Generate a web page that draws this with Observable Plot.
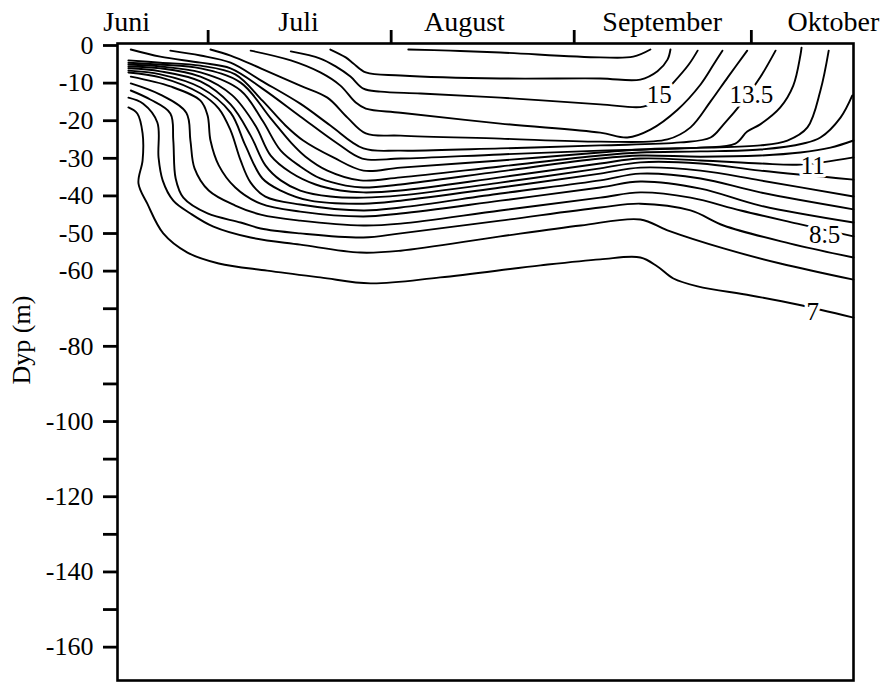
<!DOCTYPE html>
<html>
<head>
<meta charset="utf-8">
<script src="https://cdn.jsdelivr.net/npm/d3@7"></script>
<script src="https://cdn.jsdelivr.net/npm/@observablehq/plot@0.6"></script>
<style>
  html, body { margin: 0; padding: 0; background: #fff; }
  #chart svg { display: block; }
  #chart svg text { font-family: 'Liberation Serif', 'Times New Roman', serif !important; }
</style>
</head>
<body>
<div id="chart"></div>
<script>
// x = days since 1 June, y = depth (m, negative downward)
const monthNames = ["Juni", "Juli", "August", "September", "Oktober"];
const monthLabelDays = [16.2, 45.3, 73.4, 106.9, 135.9];
const monthStartDays = [30, 61, 92, 122];

const yTicks = [0, -10, -20, -30, -40, -50, -60, -70, -80, -90, -100, -110, -120, -130, -140, -150, -160];
const yLabeled = [0, -10, -20, -30, -40, -50, -60, -80, -100, -120, -140, -160];

const levels = [7, 7.5, 8, 8.5, 9, 9.5, 10, 10.5, 11, 11.5, 12, 12.5, 13, 13.5, 14, 14.5, 15, 15.5, 16];

const t7 = [[16.5,-17.0],[18.0,-18.6],[18.9,-23.9],[18.9,-31.1],[18.2,-37.2],[19.7,-42.6],[22.4,-50.5],[26.5,-55.6],[31.8,-58.5],[40.0,-60.4],[49.0,-62.2],[57.5,-63.8],[69.3,-62.2],[86.3,-59.0],[96.4,-57.4],[103.2,-56.9],[106.1,-59.3],[108.8,-62.5],[112.9,-64.6],[121.9,-67.0],[129.8,-69.4],[139.3,-72.9]];
const t7_5 = [[16.5,-14.4],[19.0,-16.0],[21.4,-21.0],[21.6,-30.3],[22.3,-36.4],[24.1,-41.8],[27.0,-45.2],[30.9,-48.7],[37.2,-51.6],[45.6,-53.5],[55.8,-55.6],[62.6,-55.1],[79.5,-51.3],[93.1,-48.4],[103.2,-46.8],[107.8,-49.7],[117.3,-54.5],[126.9,-58.5],[139.3,-62.8]];
const t8 = [[16.9,-12.5],[20.2,-14.9],[23.6,-18.6],[24.1,-25.8],[24.5,-35.9],[25.8,-41.0],[29.9,-45.2],[35.5,-47.6],[38.9,-49.2],[45.6,-50.5],[56.3,-51.6],[62.6,-50.5],[79.5,-47.1],[96.4,-43.6],[103.2,-42.6],[111.7,-44.4],[117.3,-48.4],[128.6,-53.2],[139.3,-56.9]];
const t8_5 = [[16.9,-10.6],[21.9,-13.6],[26.3,-18.4],[27.0,-25.8],[27.7,-33.2],[30.1,-39.1],[34.6,-43.1],[38.9,-45.5],[45.6,-47.1],[56.3,-48.4],[62.6,-47.9],[79.5,-44.4],[96.4,-41.0],[103.2,-39.6],[111.7,-41.0],[120.2,-44.4],[129.8,-47.9],[139.3,-51.3]];
const t9 = [[16.9,-8.8],[23.6,-11.4],[28.7,-15.2],[29.9,-19.1],[30.4,-25.8],[31.8,-32.4],[34.6,-38.3],[38.9,-42.6],[45.6,-44.7],[56.3,-46.0],[62.6,-45.2],[79.5,-41.8],[96.4,-38.3],[103.2,-36.7],[113.4,-38.6],[123.5,-43.1],[139.3,-47.6]];
const t9_5 = [[16.5,-7.7],[21.9,-9.0],[28.7,-13.3],[31.8,-17.3],[33.8,-23.1],[35.5,-31.1],[37.2,-37.0],[39.7,-40.7],[45.6,-42.8],[56.3,-44.4],[62.6,-43.6],[79.5,-39.9],[96.4,-36.4],[103.2,-34.6],[113.4,-35.9],[123.5,-39.6],[139.3,-44.1]];
const t10 = [[16.5,-7.2],[21.9,-8.2],[28.7,-11.7],[33.8,-18.4],[36.3,-27.1],[39.2,-35.9],[42.3,-39.1],[47.3,-41.8],[56.3,-42.6],[62.6,-41.8],[79.5,-38.3],[96.4,-34.6],[103.2,-33.0],[113.4,-33.8],[123.5,-36.4],[139.3,-40.7]];
const t10_5 = [[16.5,-6.6],[21.9,-7.4],[28.7,-10.1],[33.8,-16.2],[37.2,-24.5],[39.7,-32.4],[42.3,-36.4],[45.6,-39.1],[50.7,-40.7],[56.3,-41.0],[62.6,-40.4],[79.5,-37.0],[96.4,-33.2],[103.2,-31.6],[113.4,-31.9],[123.5,-33.8],[139.3,-36.2]];
const t11 = [[16.5,-6.1],[21.9,-6.6],[28.7,-8.8],[34.1,-13.8],[38.0,-21.8],[40.6,-29.8],[44.0,-34.3],[48.2,-37.5],[52.4,-39.1],[56.3,-39.6],[62.6,-39.1],[79.5,-35.6],[96.4,-31.9],[103.2,-30.6],[113.4,-31.1],[123.5,-31.9],[130.3,-32.2],[139.3,-30.3]];
const t11_5 = [[16.5,-5.6],[21.9,-6.1],[28.7,-7.7],[35.5,-12.5],[39.2,-20.5],[42.3,-28.5],[45.6,-32.7],[49.0,-35.9],[53.3,-37.8],[56.3,-38.3],[62.6,-37.5],[79.5,-34.0],[96.4,-30.6],[103.2,-29.8],[113.4,-30.1],[123.5,-29.8],[130.3,-29.0],[135.4,-27.7],[139.3,-25.8]];
const t12 = [[16.5,-5.1],[21.9,-5.6],[28.7,-6.6],[35.5,-10.4],[40.6,-19.9],[44.0,-26.3],[46.5,-30.1],[50.2,-33.8],[55.8,-36.4],[62.6,-35.6],[79.5,-32.7],[96.4,-29.8],[103.2,-29.0],[113.4,-28.7],[123.5,-28.2],[130.8,-26.6],[133.7,-25.0],[137.1,-19.7],[139.1,-13.8]];
const t12_5 = [[16.5,-4.5],[21.9,-5.1],[28.7,-5.9],[34.6,-8.2],[39.2,-15.2],[43.1,-21.8],[46.1,-25.8],[51.2,-30.3],[56.3,-33.8],[62.6,-33.0],[79.5,-31.1],[96.4,-29.0],[103.2,-28.2],[113.4,-27.7],[123.5,-27.1],[128.1,-25.8],[131.5,-22.3],[133.7,-12.5],[135.1,-1.9]];
const t13 = [[16.9,-1.6],[21.9,-3.5],[28.7,-5.1],[33.8,-6.6],[39.2,-12.0],[45.6,-19.4],[51.9,-26.6],[56.1,-30.6],[62.6,-30.6],[79.5,-29.5],[96.4,-28.5],[113.4,-27.7],[119.3,-26.6],[121.3,-23.4],[123.5,-21.5],[126.9,-17.0],[129.1,-11.2],[130.3,-3.2],[130.5,-1.1]];
const t13_5 = [[23.6,-1.9],[28.7,-3.2],[33.8,-5.1],[38.9,-9.8],[45.6,-16.0],[50.7,-21.8],[56.3,-27.9],[62.6,-28.5],[79.5,-27.9],[96.4,-27.1],[110.0,-26.3],[115.1,-25.0],[117.3,-21.5],[120.7,-15.2],[123.5,-9.0],[126.1,-1.9]];
const t14 = [[30.4,-1.6],[33.8,-3.2],[38.9,-6.6],[45.6,-11.2],[50.2,-14.4],[53.6,-19.7],[56.7,-23.9],[62.6,-24.5],[79.5,-25.3],[96.4,-26.1],[107.8,-25.5],[111.7,-22.3],[115.1,-15.4],[118.0,-9.0],[121.3,-1.9]];
const t14_5 = [[37.2,-1.9],[44.0,-4.5],[49.0,-7.7],[52.4,-11.2],[55.0,-15.7],[56.7,-17.3],[62.6,-18.4],[79.5,-21.3],[96.4,-23.7],[101.0,-25.0],[104.9,-22.9],[109.5,-17.6],[113.4,-10.9],[115.6,-5.6],[117.1,-1.9]];
const t15 = [[44.0,-2.1],[49.0,-4.0],[51.6,-6.1],[54.1,-8.8],[56.3,-12.0],[59.2,-12.8],[66.0,-13.3],[79.5,-14.4],[96.4,-16.2],[103.7,-16.8],[105.8,-15.2],[108.8,-10.4],[111.4,-5.6],[112.9,-1.9]];
const t15_5 = [[50.7,-1.6],[53.3,-3.7],[54.6,-5.3],[56.7,-7.7],[62.6,-8.5],[79.5,-9.3],[96.4,-9.3],[103.2,-9.6],[106.1,-7.4],[107.8,-4.3],[108.3,-1.6]];
const t16 = [[63.9,-1.6],[71.0,-1.9],[79.5,-2.4],[96.4,-3.7],[102.0,-3.5],[104.9,-1.6]];

const isotherms = [t7, t7_5, t8, t8_5, t9, t9_5, t10, t10_5, t11, t11_5, t12, t12_5, t13, t13_5, t14, t14_5, t15, t15_5, t16];

const labelTexts = ["15", "13.5", "11", "8.5", "7"];
const labelDays = [106.4, 122.0, 132.4, 134.4, 132.4];
const labelDepths = [-13.6, -13.6, -32.7, -50.8, -71.3];

// tables built from the arrays above
const lineRows = isotherms.flatMap((pts, i) => pts.map(([day, depth]) => ({level: levels[i], day, depth})));
const monthRows = monthNames.map((name, i) => ({name, day: monthLabelDays[i]}));
const labelRows = labelTexts.map((text, i) => ({text, day: labelDays[i], depth: labelDepths[i]}));

const font = "'Liberation Serif', 'Times New Roman', serif";

const chart = Plot.plot({
  width: 889,
  height: 682,
  marginLeft: 117,
  marginRight: 36,
  marginTop: 43,
  marginBottom: 2,
  style: {fontFamily: font, background: "#fff", color: "#000"},
  x: {domain: [14.65, 139.3], label: null},
  y: {domain: [-169.4, 0], label: null},
  marks: [
    Plot.line(lineRows, {x: "day", y: "depth", z: "level", curve: "catmull-rom", stroke: "#000", strokeWidth: 1.9}),
    Plot.text(labelRows, {x: "day", y: "depth", text: "text", fontSize: 25, fill: "#000", stroke: "#fff", strokeWidth: 7}),
    Plot.frame({stroke: "#000", strokeWidth: 2.6}),
    Plot.axisY(yTicks, {tickSize: 14, tickPadding: 10, strokeWidth: 2.8, fontSize: 26,
      tickFormat: d => yLabeled.includes(d) ? String(d) : "", dy: 2}),
    Plot.axisX(monthStartDays, {anchor: "top", tickSize: 14, strokeWidth: 2.8, tickFormat: () => ""}),
    Plot.text(monthRows, {x: "day", text: "name", frameAnchor: "top", lineAnchor: "middle", textAnchor: "middle", dy: -21, fontSize: 28, fill: "#000"}),
    Plot.text(["Dyp (m)"], {frameAnchor: "left", textAnchor: "middle", lineAnchor: "middle", dx: -96, dy: -22, rotate: -90, fontSize: 26, fill: "#000"})
  ]
});
document.getElementById("chart").appendChild(chart);
</script>
</body>
</html>
